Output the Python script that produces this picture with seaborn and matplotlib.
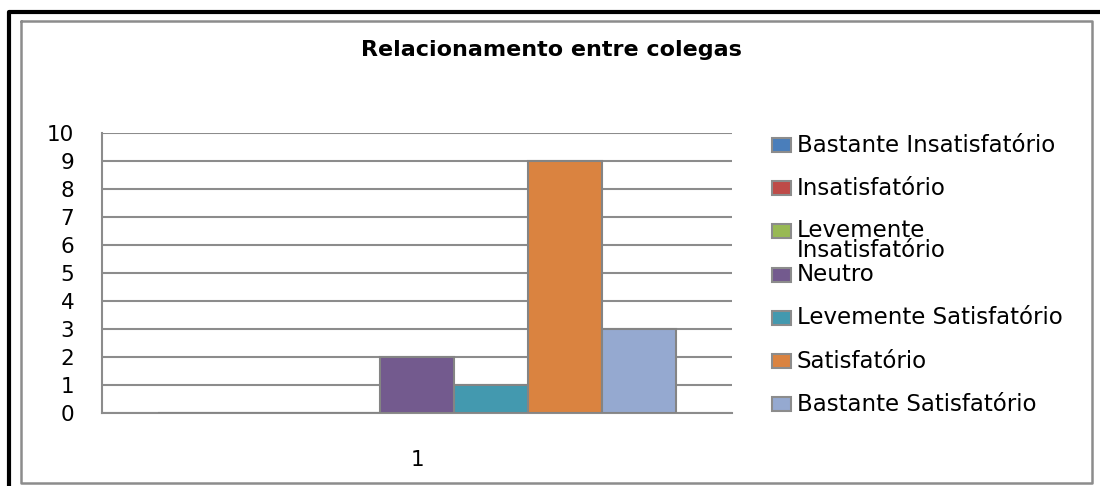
import matplotlib
matplotlib.use("Agg")
import matplotlib.pyplot as plt
from matplotlib.patches import Rectangle
from matplotlib.lines import Line2D
import seaborn as sns
import pandas as pd

# ---- data ----
categories = ["1"]
series = ["Bastante Insatisfatório", "Insatisfatório", "Levemente Insatisfatório",
          "Neutro", "Levemente Satisfatório", "Satisfatório", "Bastante Satisfatório"]
values = [0, 0, 0, 2, 1, 9, 3]
legend_labels = ["Bastante Insatisfatório", "Insatisfatório", "Levemente\nInsatisfatório",
                 "Neutro", "Levemente Satisfatório", "Satisfatório", "Bastante Satisfatório"]
yticks = list(range(0, 11))
title = "Relacionamento entre colegas"
colors = ["#4A7EBB", "#BE4B48", "#98B954", "#735A8E", "#4399AF", "#DA8340", "#95A9D0"]

df = pd.DataFrame({"cat": categories * len(series), "serie": series, "valor": values})

sns.set_style("white")
plt.rcParams["font.family"] = ["DejaVu Sans"]

W, H = 1100, 486
fig = plt.figure(figsize=(W / 100, H / 100), dpi=100)
ax = fig.add_axes([102 / W, 1 - 413 / H, (732 - 102) / W, (413 - 133) / H])

sns.barplot(data=df, x="cat", y="valor", hue="serie", hue_order=series,
            palette=colors, saturation=1, width=0.823, dodge=True,
            edgecolor="#848484", linewidth=1.5, legend=False, ax=ax, zorder=3)

ax.set_ylim(0, 10)
ax.set_xlim(-0.5, 0.5)
ax.set_yticks(yticks)
ax.set_yticklabels([str(t) for t in yticks])
ax.yaxis.grid(True, color="#8C8C8C", linewidth=1.5, zorder=0)
ax.set_axisbelow(True)
ax.tick_params(axis="y", length=0, pad=20, labelsize=15.5, colors="black")
ax.tick_params(axis="x", length=0, pad=27, labelsize=15.5, colors="black")
ax.set_xlabel("")
ax.set_ylabel("")
for s in ["top", "right"]:
    ax.spines[s].set_visible(False)
for s in ["left", "bottom"]:
    ax.spines[s].set_color("#8C8C8C")
    ax.spines[s].set_linewidth(1.5)

# title
fig.text(551 / W, 1 - 50 / H, title, ha="center", va="center",
         fontsize=16, fontweight="bold", color="black")

# legend (manual)
for i, (lab, col) in enumerate(zip(legend_labels, colors)):
    yc = 145 + 43.2 * i
    fig.add_artist(Rectangle((772 / W, 1 - (yc + 7) / H), 19 / W, 14 / H,
                             transform=fig.transFigure, facecolor=col,
                             edgecolor="#8C8C8C", linewidth=1.5))
    if "\n" in lab:
        fig.text(797 / W, 1 - (yc - 12) / H, lab, ha="left", va="top",
                 fontsize=16.5, linespacing=0.82, color="black")
    else:
        fig.text(797 / W, 1 - yc / H, lab, ha="left", va="center",
                 fontsize=16.5, color="black")

# borders
fig.add_artist(Line2D([21 / W, 1092 / W, 1092 / W, 21 / W, 21 / W],
                      [1 - 21 / H, 1 - 21 / H, 1 - 483 / H, 1 - 483 / H, 1 - 21 / H],
                      transform=fig.transFigure, color="#8C8C8C", linewidth=1.8))
fig.add_artist(Line2D([9 / W, 9 / W, 1.0], [0.0, 1 - 12 / H, 1 - 12 / H],
                      transform=fig.transFigure, color="black", linewidth=3))

fig.savefig("out.png", dpi=100, facecolor="white")
